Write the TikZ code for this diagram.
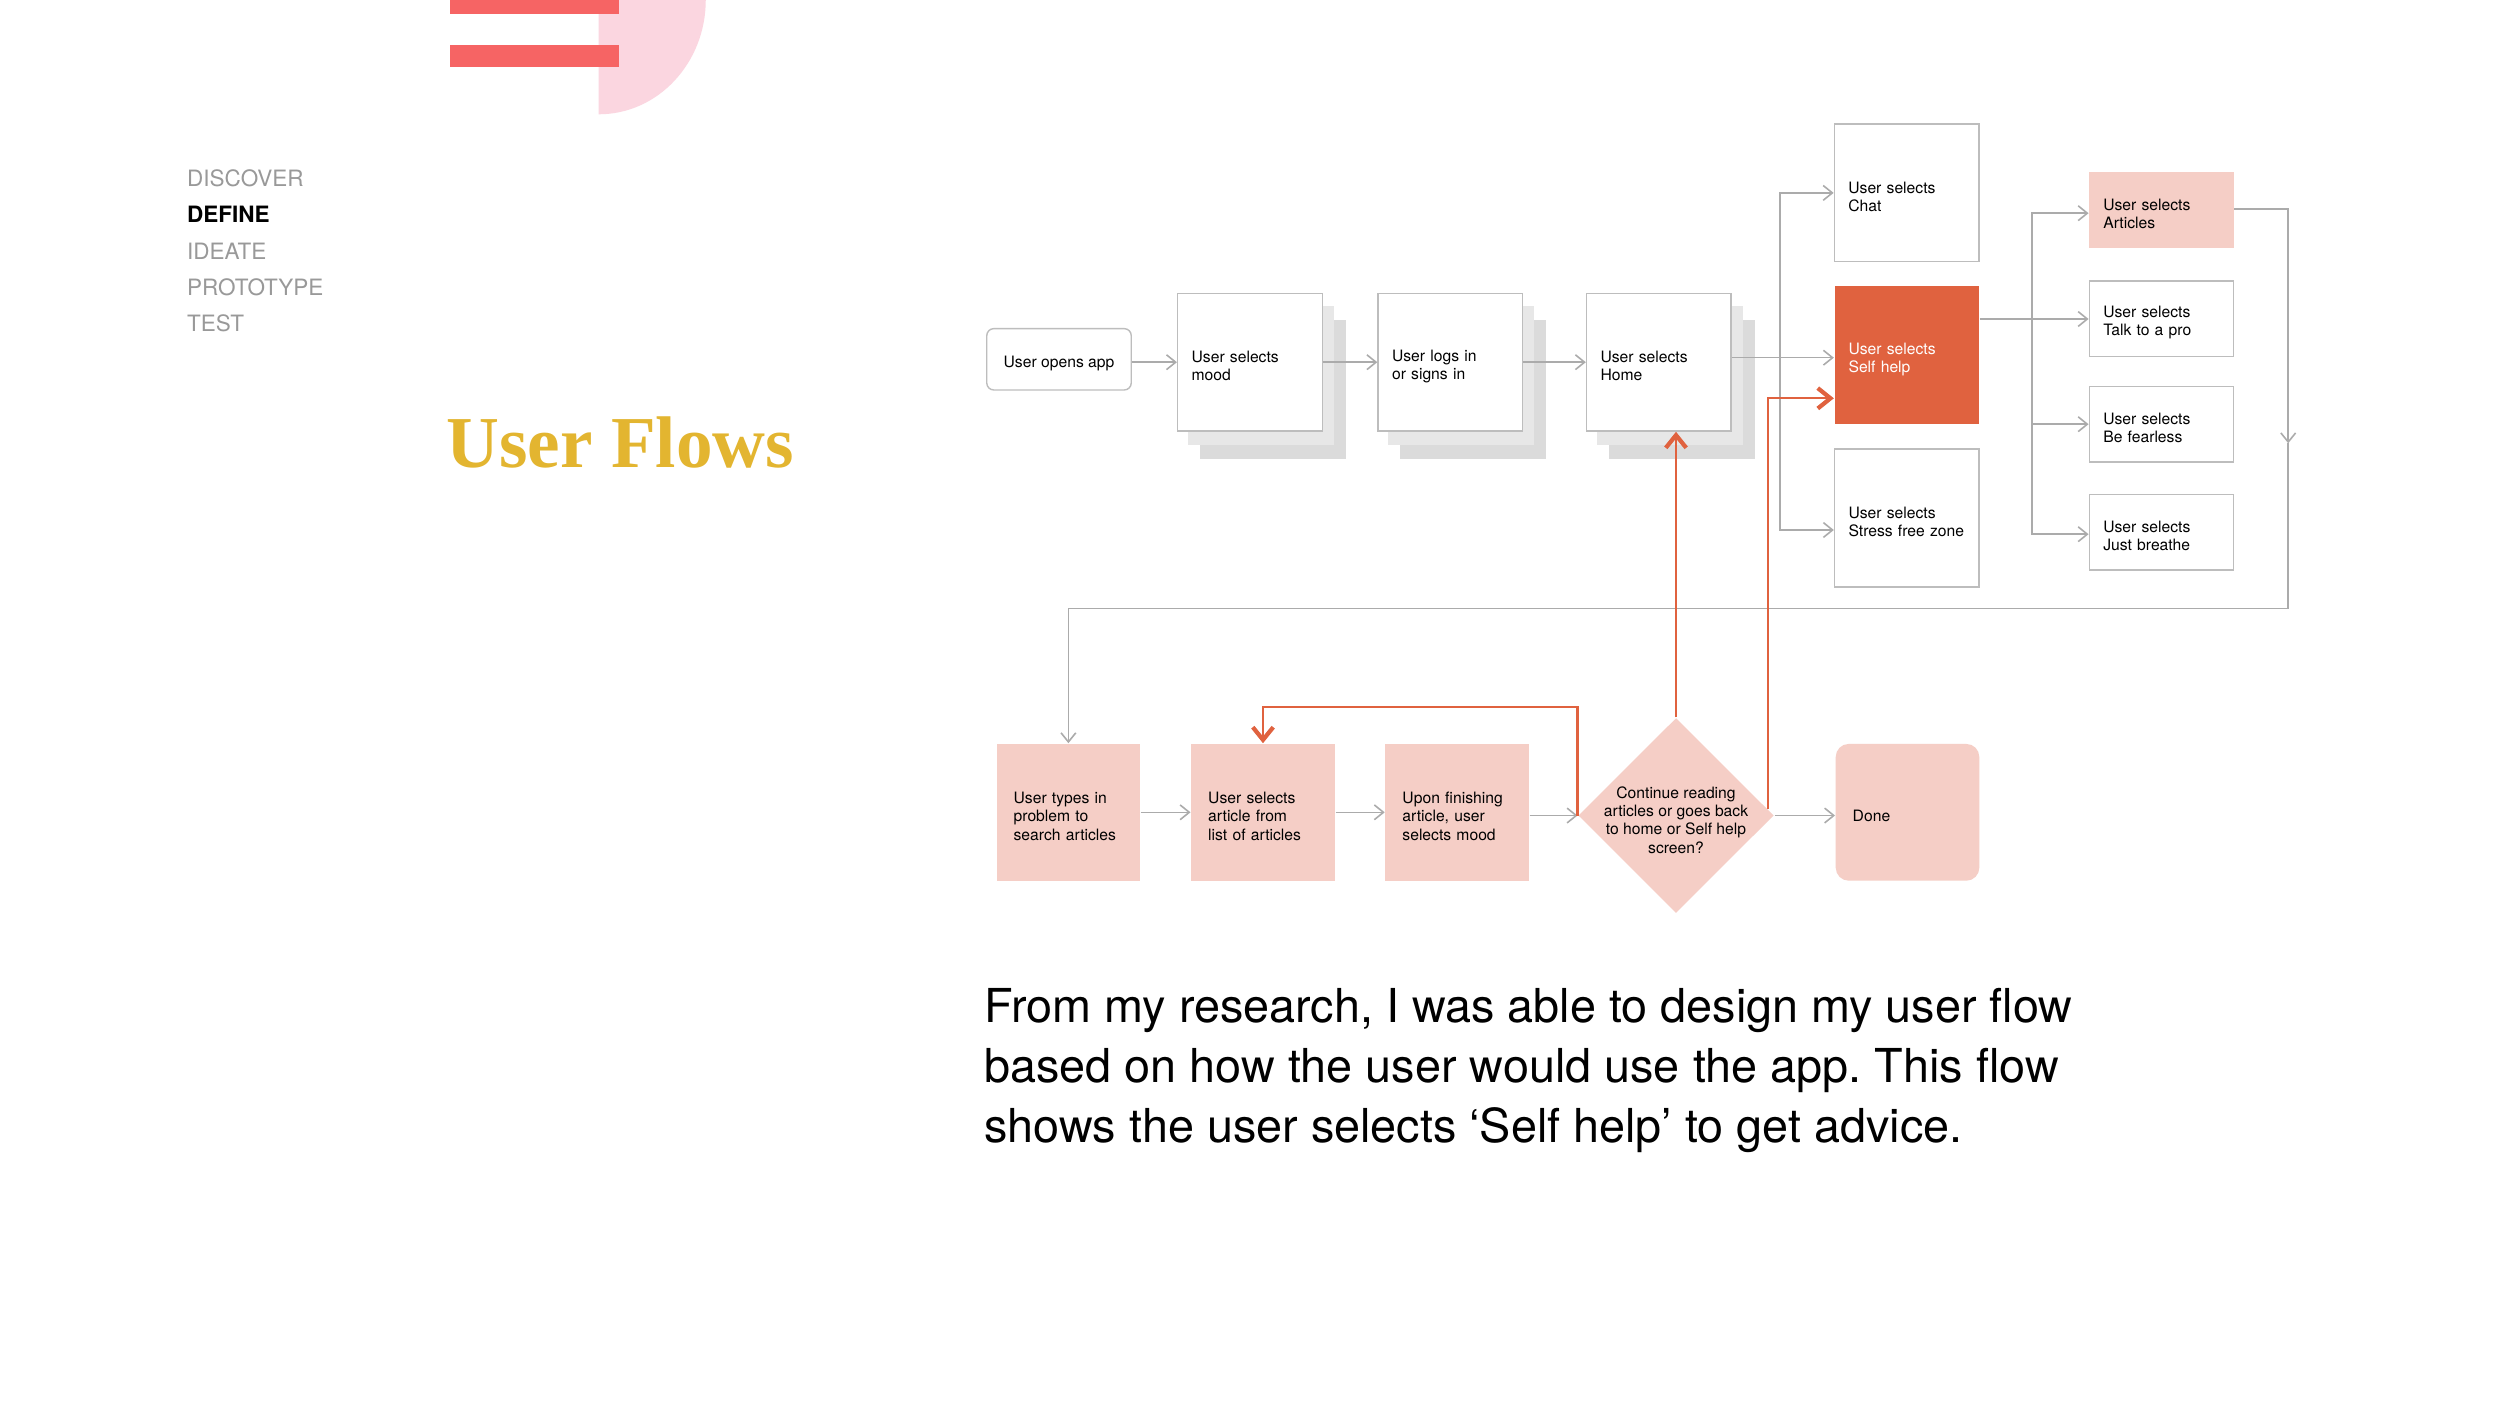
\documentclass[tikz,border=0pt]{standalone}
\usepackage{fontspec}
\setmainfont{TeX Gyre Heros}
\newfontfamily\titlefont{Liberation Serif}
\usetikzlibrary{arrows.meta,shapes.geometric,calc}
\definecolor{boxgray}{HTML}{BDBDBD}
\definecolor{linegray}{HTML}{ABABAB}
\definecolor{selfred}{HTML}{E0623F}
\definecolor{pinkfill}{HTML}{F5CEC6}
\definecolor{shone}{HTML}{E7E7E7}
\definecolor{shtwo}{HTML}{DBDBDB}
\definecolor{barred}{HTML}{F66464}
\definecolor{decopink}{HTML}{FBD6E0}
\definecolor{titlegold}{HTML}{E3B530}
\definecolor{menugray}{HTML}{999999}
\frenchspacing
\pgfdeclarelayer{bg}
\pgfsetlayers{bg,main}
\tikzset{
  nodefont/.style={font=\fontsize{4.46pt}{5.2pt}\selectfont},
  lowtext/.style={execute at begin node={\rule{0pt}{5.5pt}}},
  wbox/.style={nodefont, lowtext, draw=boxgray, line width=0.4pt, fill=white,
    minimum width=1.445cm, minimum height=1.377cm, text width=1.165cm,
    inner xsep=0.14cm, inner ysep=0pt, align=left},
  rbox/.style={nodefont, lowtext, draw=boxgray, line width=0.4pt, fill=white,
    minimum width=1.442cm, minimum height=0.756cm, text width=1.162cm,
    inner xsep=0.14cm, inner ysep=0pt, align=left},
  pbox/.style={nodefont, lowtext, fill=pinkfill, draw=none,
    minimum width=1.435cm, minimum height=1.367cm, text width=1.095cm,
    inner xsep=0.17cm, inner ysep=0pt, align=left},
  obox/.style={nodefont, lowtext, draw=boxgray, line width=0.4pt, fill=white, rounded corners=0.07cm,
    minimum width=1.444cm, minimum height=0.613cm, inner sep=0pt, align=center},
  gline/.style={draw=linegray, line width=0.45pt},
  garrow/.style={draw=linegray, line width=0.45pt, -{Straight Barb[length=2.6pt,width=4.2pt]}},
  rarrow/.style={draw=selfred, line width=0.65pt, -{Straight Barb[length=3.6pt,width=5.8pt,line width=1.2pt]}},
  menu/.style={font=\fontsize{6.4pt}{7.5pt}\selectfont, text=menugray, anchor=base west, inner sep=0pt},
  para/.style={font=\fontsize{13.3pt}{17pt}\selectfont, text=black, anchor=base west, inner sep=0pt},
}
\begin{document}
\begin{tikzpicture}[x=0.01cm,y=-0.01cm]
\useasboundingbox (0,0) rectangle (2500,1406);

% decoration top
\fill[decopink] (598.7,0) -- (598.7,114.3) arc[start angle=-90,end angle=0,x radius=1.07cm,y radius=1.143cm] -- cycle;
\fill[barred] (449.6,0) rectangle (618.6,14);
\fill[barred] (449.6,45) rectangle (618.6,66.7);

% menu
\node[menu] (m1) at (186.5,186.7) {DISCOVER};
\node[menu, text=black, font=\fontsize{6.4pt}{7.5pt}\selectfont\bfseries] (m2) at (186.5,222.9) {DEFINE};
\node[menu] (m3) at (186.5,259.2) {IDEATE};
\node[menu] (m4) at (186.5,295.5) {PROTOTYPE};
\node[menu] (m5) at (186.5,331.8) {TEST};

% title
\node[anchor=base west, inner sep=0pt, text=titlegold, font=\titlefont\bfseries\fontsize{20.8pt}{24pt}\selectfont] (title) at (446,467) {User Flows};

% top row
\node[obox] (open) at (1059,359.3) {User opens app};
\node[wbox] (mood) at (1249.9,362.2) {User selects\\mood};
\node[wbox] (logs) at (1450.3,362.2) {User logs in\\or signs in};
\node[wbox] (home) at (1658.8,362.2) {User selects\\Home};

\begin{pgfonlayer}{bg}
\fill[white] (0,0) rectangle (2500,1406);
\foreach \n in {mood,logs,home}{
  \fill[shtwo] ($(\n.south west)+(23,27)$) rectangle ($(\n.north east)+(23,27)$);
  \fill[shone] ($(\n.south west)+(10.7,13.5)$) rectangle ($(\n.north east)+(10.7,13.5)$);
}
\end{pgfonlayer}

\node[wbox] (chat) at (1906.6,192.9) {User selects\\Chat};
\node[wbox, fill=selfred, draw=none, text=white] (selfhelp) at (1906.8,355.3) {User selects\\Self help};
\node[wbox] (stress) at (1906.8,518) {User selects\\\mbox{Stress free zone}};

\node[rbox, fill=pinkfill, draw=none] (articles) at (2161.4,210.2) {User selects\\Articles};
\node[rbox] (talk) at (2161.4,318.8) {User selects\\Talk to a pro};
\node[rbox] (fearless) at (2161.4,424.2) {User selects\\Be fearless};
\node[rbox] (breathe) at (2161.4,532.2) {User selects\\Just breathe};

% bottom row
\node[pbox] (typein) at (1068.4,812.3) {User types in\\problem to\\search articles};
\node[pbox] (list) at (1263,812.3) {User selects\\article from\\list of articles};
\node[pbox] (upon) at (1457.2,812.3) {Upon finishing\\article, user\\selects mood};
\node[diamond, fill=pinkfill, draw=none, minimum width=1.955cm, minimum height=1.95cm, inner sep=0pt] (dia) at (1676,815.5) {};
\node[nodefont, align=center, inner sep=0pt] (diatext) at (1676,820) {Continue reading\\articles or goes back\\to home or Self help\\screen?};
\node[pbox, rounded corners=0.13cm] (done) at (1907.5,812.3) {Done};

% gray connectors top
\draw[garrow] (open.east |- mood.west) -- (mood.west);
\draw[garrow] (mood.east) -- (logs.west);
\draw[garrow] (logs.east) -- (home.west);

\coordinate (hb) at (1780,357.7);
\draw[gline] (home.east |- hb) -- (hb);
\draw[garrow] (hb) |- (chat.west);
\draw[garrow] (hb) -- (selfhelp.west |- hb);
\draw[garrow] (hb) |- ($(stress.west)+(0,12)$);

\coordinate (sb) at (2032.1,319);
\draw[gline] (selfhelp.east |- sb) -- (sb);
\draw[garrow] (sb) -- (talk.west |- sb);
\draw[garrow] (sb) |- ($(articles.west)+(0,3)$);
\draw[garrow] (sb) |- (fearless.west);
\draw[garrow] (sb) |- ($(breathe.west)+(0,2)$);

\coordinate (lp1) at (2288.2,443.3);
\coordinate (lp2) at (2288.2,608.5);
\draw[garrow] ($(articles.east)+(0,-1)$) -| (lp1);
\draw[garrow] (lp1) -- (lp2) -| (typein.north);

% gray connectors bottom
\draw[garrow] (typein.east) -- (list.west);
\draw[garrow] (list.east) -- (upon.west);
\draw[garrow] (upon.east |- dia.west) -- (dia.west);
\draw[garrow] (dia.east) -- (done.west |- dia.east);

% red connectors
\draw[rarrow] (dia.north) -- (dia.north |- home.south);
\coordinate (rl) at (1578,706.7);
\draw[rarrow] (dia.west) -- (dia.west |- rl) -| (list.north);
\coordinate (rr) at (1767,398.3);
\coordinate (rs) at ($(dia.east)+(-6.5,-6.5)$);
\draw[rarrow] (rs) -- (rs |- rr) -- (selfhelp.west |- rr);

% paragraph
\node[para] (p1) at (983.7,1022) {From my research, I was able to design my user flow};
\node[para] (p2) at (983.7,1082) {based on how the user would use the app. This flow};
\node[para] (p3) at (983.7,1142) {shows the user selects ‘Self help’ to get advice.};
\end{tikzpicture}
\end{document}
